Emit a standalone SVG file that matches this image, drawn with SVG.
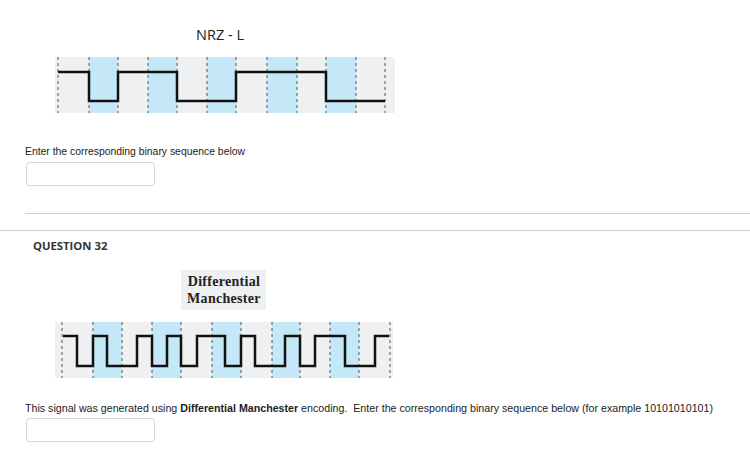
<svg xmlns="http://www.w3.org/2000/svg" width="750" height="461" viewBox="0 0 750 461">
<style>
.bg{fill:#eef0f1}.band{fill:#c4e8f7}.dash{stroke:#555;stroke-width:1;stroke-dasharray:3,3}
.sig{fill:none;stroke:#111;stroke-width:2.5}
.txt{font-family:"Liberation Sans",Arial,sans-serif;fill:#222}
.box{fill:#fff;stroke:#d6d6d6;stroke-width:1}
</style>
<rect width="750" height="461" fill="#fff"/>
<g id="nrz">
<text x="220" y="40" text-anchor="middle" font-family="Open Sans,sans-serif" font-size="14.5" fill="#222">NRZ - L</text>
<rect class="bg" x="55" y="57" width="340" height="56"/>
<rect class="band" x="89" y="57" width="29" height="56"/>
<rect class="band" x="148" y="57" width="29" height="56"/>
<rect class="band" x="207" y="57" width="29" height="56"/>
<rect class="band" x="267" y="57" width="30" height="56"/>
<rect class="band" x="326" y="57" width="30" height="56"/>
<g class="dash"><path d="M58 57V113M89 57V113M118 57V113M148 57V113M177 57V113M207 57V113M236 57V113M267 57V113M297 57V113M326 57V113M356 57V113M385 57V113"/></g>
<path class="sig" d="M58 72H89V101H118V72H177V101H236V72H326V101H385"/>
</g>
<g id="q31text">
<text class="txt" x="25" y="155" font-size="10" textLength="220" lengthAdjust="spacingAndGlyphs">Enter the corresponding binary sequence below</text>
<rect class="box" x="26.5" y="162.5" width="128" height="23" rx="3"/>
</g>
<path d="M25 213.5H750" stroke="#cfcfcf"/>
<path d="M0 230.5H750" stroke="#cfcfcf"/>
<text x="33" y="250" font-family="Open Sans,sans-serif" font-weight="bold" font-size="11.3" fill="#333">QUESTION 32</text>
<g id="dm">
<rect x="181" y="270" width="85" height="40" fill="#eef0f1"/>
<text x="224" y="286" text-anchor="middle" font-family="Liberation Serif,serif" font-weight="bold" font-size="14" fill="#222" letter-spacing="0.3">Differential</text>
<text x="224" y="303" text-anchor="middle" font-family="Liberation Serif,serif" font-weight="bold" font-size="14" fill="#222" letter-spacing="0.3">Manchester</text>
<rect class="bg" x="55" y="322" width="338" height="56"/>
<rect class="band" x="93" y="322" width="29" height="56"/>
<rect class="band" x="152" y="322" width="29" height="56"/>
<rect class="band" x="212" y="322" width="29" height="56"/>
<rect class="band" x="272" y="322" width="28" height="56"/>
<rect class="band" x="330" y="322" width="29" height="56"/>
<g class="dash"><path d="M62 322V378M93 322V378M122 322V378M152 322V378M181 322V378M212 322V378M241 322V378M272 322V378M300 322V378M330 322V378M359 322V378M390 322V378"/></g>
<path class="sig" d="M63 336H77V366H93V336H107V366H137V336H152V366H167V336H181V366H197V336H225V366H241V336H255V366H285V336H300V366H315V336H345V366H375V336H389"/>
</g>
<g id="q32text">
<text class="txt" x="25" y="412" font-size="10.5" textLength="688" lengthAdjust="spacingAndGlyphs" xml:space="preserve">This signal was generated using <tspan font-weight="bold">Differential Manchester</tspan> encoding.  Enter the corresponding binary sequence below (for example 10101010101)</text>
<rect class="box" x="26.5" y="418.5" width="128" height="23" rx="3"/>
</g>
</svg>
